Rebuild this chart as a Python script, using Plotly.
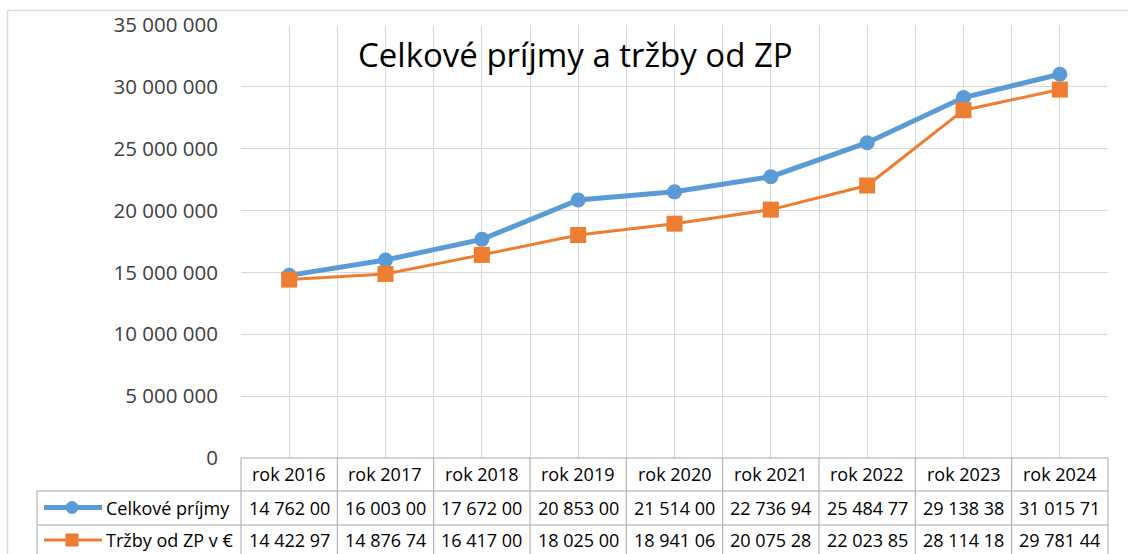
import plotly.graph_objects as go

# ---- data ----
years = ["rok 2016", "rok 2017", "rok 2018", "rok 2019", "rok 2020",
         "rok 2021", "rok 2022", "rok 2023", "rok 2024"]
celkove_prijmy = [14762000, 16003000, 17672000, 20853000, 21514000,
                  22736940, 25484770, 29138380, 31015710]
trzby_zp = [14422970, 14876740, 16417000, 18025000, 18941060,
            20075280, 22023850, 28114180, 29781440]
series_names = ["Celkové príjmy", "Tržby od ZP v €"]
y_ticks = [0, 5000000, 10000000, 15000000, 20000000, 25000000, 30000000, 35000000]
y_tick_labels = ["0", "5 000 000", "10 000 000", "15 000 000", "20 000 000",
                 "25 000 000", "30 000 000", "35 000 000"]
title_text = "Celkové príjmy a tržby od ZP"

# ---- layout constants (pixels) ----
W, H = 1128, 554
PL, PR, PT, PB = 241, 1108, 25, 458
TABLE_L = 37
ROWS = [458, 491, 525, 560]
BLUE = "#5B9BD5"
ORANGE = "#ED7D31"
GRID = "#D9D9D9"
TGRID = "#A6A6A6"
FONT = "Open Sans"


def px(x):
    return x / W


def py(y):
    return 1 - y / H


fig = go.Figure()
xs = list(range(len(years)))
fig.add_trace(go.Scatter(x=xs, y=celkove_prijmy, mode="lines+markers", name=series_names[0],
                         line=dict(color=BLUE, width=5),
                         marker=dict(symbol="circle", size=15, color=BLUE)))
fig.add_trace(go.Scatter(x=xs, y=trzby_zp, mode="lines+markers", name=series_names[1],
                         line=dict(color=ORANGE, width=3),
                         marker=dict(symbol="square", size=16, color=ORANGE)))

shapes = []
annotations = []


def line(x0, y0, x1, y1, color=TGRID, width=1):
    shapes.append(dict(type="line", xref="paper", yref="paper",
                       x0=px(x0), y0=py(y0), x1=px(x1), y1=py(y1),
                       line=dict(color=color, width=width)))


# chart area border
line(7, 10.5, W, 10.5, color=GRID, width=1.5)
line(7.5, 10, 7.5, H, color=GRID, width=1.5)

# data table
n = len(years)
cw = (PR - PL) / n
bounds = [PL + i * cw for i in range(n + 1)]
line(PL, ROWS[0], PR, ROWS[0])
for r in ROWS[1:3]:
    line(TABLE_L, r, PR, r)
for b in bounds:
    line(b, ROWS[0], b, H)
line(TABLE_L, ROWS[1], TABLE_L, H)


def fmt(v):
    s = f"{int(v):,}".replace(",", " ")
    return s[:9]


row_centers = [474, 507.5, 540]
for i, yl in enumerate(years):
    cx = (bounds[i] + bounds[i + 1]) / 2
    annotations.append(dict(x=px(cx), y=py(row_centers[0]), xref="paper", yref="paper",
                            text=yl, showarrow=False, xanchor="center", yanchor="middle",
                            font=dict(family=FONT, size=18, color="#000000")))
    for j, vals in enumerate([celkove_prijmy, trzby_zp]):
        annotations.append(dict(x=px(cx), y=py(row_centers[j + 1]), xref="paper", yref="paper",
                                text=fmt(vals[i]), showarrow=False, xanchor="center",
                                yanchor="middle",
                                font=dict(family=FONT, size=18, color="#000000")))

# legend keys inside table
for j, (nm, col) in enumerate(zip(series_names, [BLUE, ORANGE])):
    yc = row_centers[j + 1]
    line(44, yc, 102, yc, color=col, width=5 if j == 0 else 3)
    kind = "circle" if j == 0 else "rect"
    shapes.append(dict(type=kind, xref="paper", yref="paper",
                       x0=px(72 - 6), x1=px(72 + 6), y0=py(yc + 6), y1=py(yc - 6),
                       fillcolor=col, line=dict(color=col, width=1)))
    annotations.append(dict(x=px(104), y=py(yc), xref="paper", yref="paper",
                            text=nm, showarrow=False, xanchor="left", yanchor="middle",
                            font=dict(family=FONT, size=18, color="#000000")))

# title
annotations.append(dict(x=px(575), y=py(55), xref="paper", yref="paper",
                        text=title_text, showarrow=False, xanchor="center", yanchor="middle",
                        font=dict(family=FONT, size=33, color="#000000")))

fig.update_layout(
    width=W, height=H, autosize=False,
    margin=dict(l=0, r=0, t=0, b=0, pad=0, autoexpand=False),
    paper_bgcolor="white", plot_bgcolor="white",
    showlegend=False,
    shapes=shapes, annotations=annotations,
    xaxis=dict(domain=[px(PL), px(PR)], range=[-0.5, n - 0.5], tick0=-0.5, dtick=0.5,
               showgrid=True, gridcolor=GRID, gridwidth=1, zeroline=False, automargin=False,
               showticklabels=False, showline=False, ticks=""),
    yaxis=dict(domain=[py(PB), py(PT)], range=[0, 35000000], tickvals=y_ticks,
               ticktext=y_tick_labels, showgrid=True, gridcolor=GRID, gridwidth=1,
               zeroline=False, showline=False, ticks="", ticklabelstandoff=22,
               automargin=False,
               tickfont=dict(family=FONT, size=20.5, color="#404040")),
)

fig.write_html("out.html", config={"responsive": False, "displayModeBar": False},
               post_script="document.body.style.margin='0';document.body.style.overflow='hidden';")
